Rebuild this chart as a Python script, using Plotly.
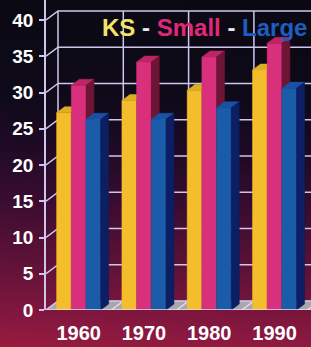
import plotly.graph_objects as go
import numpy as np

# ---------------- data ----------------
years = ["1960", "1970", "1980", "1990"]
series_names = ["KS", "Small", "Large"]
ks_values = [27.2, 28.9, 30.3, 33.1]
small_values = [31.0, 34.2, 34.9, 36.8]
large_values = [26.3, 26.3, 27.9, 30.6]
y_tick_values = [0, 5, 10, 15, 20, 25, 30, 35, 40]

# ---------------- style / geometry ----------------
W, H = 311, 347
X0PX, Y0PX = 46, 310          # pixel position of the front-left axis origin
PXX, PXY = 65.3, 7.25         # pixels per x unit / per y unit
x_range = [-0.5, -0.5 + (W - X0PX) / PXX]
y_range = [0, Y0PX / PXY]

BW = 0.225                    # bar front width (x units)
BDX, BDY = 8 / PXX, 6 / PXY   # bar depth offset
WDX, WDY = 12 / PXX, 9 / PXY  # wall depth offset

colors = {
    "KS":    dict(front="#f4bd2c", top="#dcae22", side="#a47612"),
    "Small": dict(front="#d8307c", top="#bd2565", side="#6e1434"),
    "Large": dict(front="#1b5ca8", top="#1852a6", side="#0b1f62"),
}
title_colors = {"KS": "#f2e36a", "Small": "#e0287a", "Large": "#1c5ec2"}
GRID = "#cfc6ee"
FONT = "Liberation Sans, Arial, sans-serif"

fig = go.Figure()

# ---------------- background gradient ----------------
gy = np.linspace(0, H, 60)
gx = np.linspace(0, W, 20)
gz = [[(py / H) * 0.96 + 0.04 * (1 - px / W) for px in gx] for py in gy]
fig.add_trace(go.Heatmap(
    x=gx, y=gy, z=gz, zmin=0, zmax=1, zsmooth="best", showscale=False,
    hoverinfo="skip", xaxis="x", yaxis="y",
    colorscale=[[0.0, "#0a0912"], [0.3, "#0f0a1a"], [0.42, "#1c0a24"],
                [0.58, "#380c30"], [0.78, "#641238"], [0.94, "#8a1840"],
                [1.0, "#981c3c"]],
))

def line(xs, ys, color=GRID, width=1.5):
    fig.add_trace(go.Scatter(x=xs, y=ys, mode="lines", xaxis="x2", yaxis="y2",
                             line=dict(color=color, width=width),
                             hoverinfo="skip", showlegend=False))

def poly(xs, ys, color):
    fig.add_trace(go.Scatter(x=xs, y=ys, mode="lines", fill="toself",
                             fillcolor=color, xaxis="x2", yaxis="y2",
                             line=dict(color=color, width=0.5),
                             hoverinfo="skip", showlegend=False))

xl, xr = x_range[0], x_range[1] + 0.5
ytop = y_tick_values[-1]

# floor
poly([xl, xr, xr + WDX, xl + WDX, xl], [0, 0, WDY, WDY, 0], "#a9a7ad")

# back wall horizontal grid lines + left wall diagonals
gxs, gys = [], []
for v in y_tick_values:
    gxs += [xl, xl + WDX, xr + WDX, None]
    gys += [v, v + WDY, v + WDY, None]
line(gxs, gys)
# back wall vertical lines
vxs, vys = [], []
for k in range(len(years) + 1):
    vxs += [xl + k + WDX, xl + k + WDX, None]
    vys += [WDY, ytop + WDY, None]
line(vxs, vys)
# floor diagonals at category boundaries
fxs, fys = [], []
for k in range(1, len(years) + 1):
    fxs += [xl + k, xl + k + WDX, None]
    fys += [0, WDY, None]
line(fxs, fys, color="#e6e2f2", width=1.2)

# ---------------- bars (front, top, side faces) ----------------
all_values = {"KS": ks_values, "Small": small_values, "Large": large_values}
for si, name in enumerate(series_names):
    c = colors[name]
    for ci, v in enumerate(all_values[name]):
        x0 = ci - 1.5 * BW + si * BW
        x1 = x0 + BW
        poly([x0, x1, x1, x0, x0], [0, 0, v, v, 0], c["front"])
        poly([x0, x1, x1 + BDX, x0 + BDX, x0], [v, v, v + BDY, v + BDY, v], c["top"])
        poly([x1, x1 + BDX, x1 + BDX, x1, x1], [0, BDY, v + BDY, v, 0], c["side"])

# front floor edge
line([xl, xr], [0, 0], color="#e6e2f2", width=1.5)

# ---------------- title (legend text) ----------------
title = ("<b><span style='color:%s'>KS</span> <span style='color:#e8e6ee'>-</span> "
         "<span style='color:%s'>Small</span> <span style='color:#e8e6ee'>-</span> "
         "<span style='color:%s'>Large</span></b>") % (
    title_colors["KS"], title_colors["Small"], title_colors["Large"])

fig.update_layout(
    width=W, height=H,
    margin=dict(l=0, r=0, t=0, b=0, pad=0, autoexpand=False),
    paper_bgcolor="#0a0912", plot_bgcolor="rgba(0,0,0,0)",
    showlegend=False,
    xaxis=dict(domain=[0, 1], range=[0, W], visible=False, fixedrange=True,
               automargin=False),
    yaxis=dict(domain=[0, 1], range=[H, 0], visible=False, fixedrange=True,
               automargin=False),
    xaxis2=dict(domain=[X0PX / W, 1], range=x_range, anchor="y2",
                tickvals=list(range(len(years))), ticktext=years,
                showgrid=False, zeroline=False, showline=False, ticks="",
                ticklabelstandoff=9, automargin=False, fixedrange=True,
                tickfont=dict(family=FONT, size=20, color="white", weight="bold")),
    yaxis2=dict(domain=[(H - Y0PX) / H, 1], range=y_range, anchor="x2",
                tickvals=y_tick_values, showgrid=False, zeroline=False,
                showline=True, linecolor=GRID, linewidth=1.5,
                ticks="outside", ticklen=5, tickcolor=GRID, tickwidth=1.5,
                ticklabelstandoff=2, automargin=False, fixedrange=True,
                tickfont=dict(family=FONT, size=19, color="white", weight="bold")),
    annotations=[dict(text=title, x=100 / W, y=1 - 27 / H, xref="paper", yref="paper",
                      xanchor="left", yanchor="middle", showarrow=False,
                      font=dict(family=FONT, size=24))],
)

fig.write_html("out.html", config={"displayModeBar": False},
               post_script="document.body.style.margin='0';document.body.style.overflow='hidden';")
